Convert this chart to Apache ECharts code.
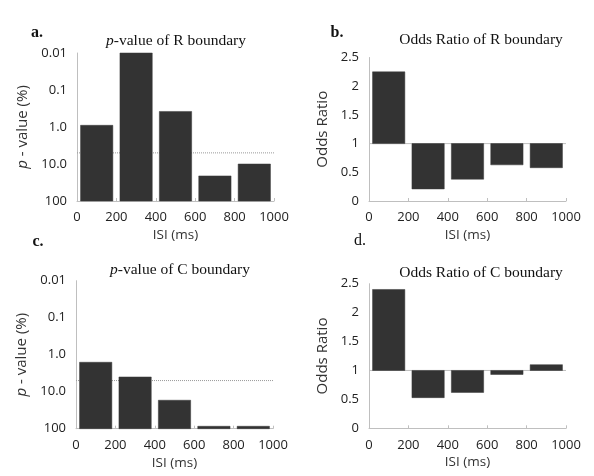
<!DOCTYPE html>
<html lang="en">
<head>
<meta charset="UTF-8">
<title>p-value / Odds Ratio</title>
<script src="https://cdn.jsdelivr.net/npm/echarts@6/dist/echarts.min.js"></script>
<style>
  html, body { margin: 0; padding: 0; background: #fff; }
  #main { width: 594px; height: 476px; }
</style>
</head>
<body>
<div id="main"></div>
<script>
// ISI bins (start of each 200 ms bin)
var isiBins = [0, 200, 400, 600, 800];
var binWidth = 200;

// p-values (%) for R and C boundary
var pValueR = [0.9, 0.01, 0.38, 21, 10];
var pValueC = [1.6, 4.0, 17, 86, 86];
var pThreshold = 5;

// odds ratios
var oddsR = [2.25, 0.21, 0.38, 0.63, 0.58];
var oddsC = [2.4, 0.53, 0.62, 0.93, 1.1];

var pTickLabels = ['0.01', '0.1', '1.0', '10.0', '100'];
var xTickLabels = ['0', '200', '400', '600', '800', '1000'];

var sans = 'Open Sans';
var serif = 'Liberation Serif';
var axisGray = '#bfbfbf';
var barColor = '#333333';

// grids: a, b, c, d
var grids = [
  { left: 77, top: 53, width: 197, height: 148 },
  { left: 369, top: 57.5, width: 197, height: 143.5 },
  { left: 76, top: 280.7, width: 197, height: 148 },
  { left: 369, top: 283.7, width: 197, height: 144.6 }
];

function xAxisFor(i) {
  return {
    gridIndex: i, type: 'value', min: 0, max: 1000, interval: 200,
    name: 'ISI (ms)', nameLocation: 'middle', nameGap: 27,
    nameTextStyle: { fontFamily: sans, fontSize: 13.5, color: '#333' },
    axisLine: { lineStyle: { color: axisGray } },
    axisTick: { show: true, inside: true, length: 3, lineStyle: { color: axisGray } },
    axisLabel: { fontFamily: sans, fontSize: 13, color: '#222', margin: 10,
      formatter: function (v, idx) { return xTickLabels[idx]; } },
    splitLine: { show: false }
  };
}

function pAxisFor(i) {
  return {
    gridIndex: i, type: 'log', logBase: 10, min: 0.01, max: 100, inverse: true,
    name: '{i|p} - value (%)', nameLocation: 'middle', nameGap: 47,
    nameTextStyle: { fontFamily: sans, fontSize: 15, color: '#333',
      rich: { i: { fontFamily: sans, fontSize: 15, fontStyle: 'italic', color: '#333' } } },
    axisLine: { show: true, lineStyle: { color: axisGray } },
    axisTick: { show: false },
    axisLabel: { fontFamily: sans, fontSize: 13, color: '#222', margin: 10,
      formatter: function (v, idx) { return pTickLabels[idx]; } },
    splitLine: { show: false }
  };
}

function oddsAxisFor(i) {
  return {
    gridIndex: i, type: 'value', min: 0, max: 2.5, interval: 0.5,
    name: 'Odds Ratio', nameLocation: 'middle', nameGap: 39,
    nameTextStyle: { fontFamily: sans, fontSize: 15, color: '#333' },
    axisLine: { show: true, lineStyle: { color: axisGray } },
    axisTick: { show: false },
    axisLabel: { fontFamily: sans, fontSize: 13, color: '#222', margin: 10 },
    splitLine: { show: false }
  };
}

// bars drawn between a base value and the data value
function barSeries(i, values, base) {
  var data = isiBins.map(function (x, k) { return [x, values[k]]; });
  return {
    type: 'custom', xAxisIndex: i, yAxisIndex: i, z: 3,
    renderItem: function (params, api) {
      var x0 = api.value(0);
      var gap = binWidth * 0.09;
      var p1 = api.coord([x0 + gap, base]);
      var p2 = api.coord([x0 + binWidth - gap, api.value(1)]);
      return {
        type: 'rect',
        shape: { x: p1[0], y: Math.min(p1[1], p2[1]), width: p2[0] - p1[0], height: Math.abs(p2[1] - p1[1]) },
        style: { fill: barColor, stroke: '#3a3a3a', lineWidth: 0.5 }
      };
    },
    data: data
  };
}

function refLine(i, y, type, color) {
  return {
    type: 'line', xAxisIndex: i, yAxisIndex: i, z: 2,
    symbol: 'none', silent: true,
    lineStyle: { color: color, width: 1, type: type },
    data: [[0, y], [1000, y]]
  };
}

function titleText(text, x, y, size, bold) {
  return {
    text: text, left: x, top: y, textAlign: 'center', padding: 0,
    textStyle: { fontFamily: serif, fontSize: size, fontWeight: bold ? 'bold' : 'normal', color: '#111',
      rich: { i: { fontFamily: serif, fontSize: size, fontStyle: 'italic', color: '#111' } } }
  };
}

var chart = echarts.init(document.getElementById('main'));
chart.setOption({
  animation: false,
  backgroundColor: '#fff',
  title: [
    titleText('a.', 37, 25, 16, true),
    titleText('b.', 337, 25, 16, true),
    titleText('c.', 38, 234, 16, true),
    titleText('d.', 360, 233, 16, false),
    titleText('{i|p}-value of R boundary', 176, 33, 15.5),
    titleText('Odds Ratio of R boundary', 481, 32, 15.5),
    titleText('{i|p}-value of C boundary', 180, 262, 15.5),
    titleText('Odds Ratio of C boundary', 481, 264.5, 15.5)
  ],
  grid: grids,
  xAxis: [xAxisFor(0), xAxisFor(1), xAxisFor(2), xAxisFor(3)],
  yAxis: [pAxisFor(0), oddsAxisFor(1), pAxisFor(2), oddsAxisFor(3)],
  series: [
    refLine(0, pThreshold, 'dotted', '#999'),
    barSeries(0, pValueR, 100),
    refLine(1, 1, 'solid', axisGray),
    barSeries(1, oddsR, 1),
    refLine(2, pThreshold, 'dotted', '#999'),
    barSeries(2, pValueC, 100),
    refLine(3, 1, 'solid', axisGray),
    barSeries(3, oddsC, 1)
  ]
});
</script>
</body>
</html>
